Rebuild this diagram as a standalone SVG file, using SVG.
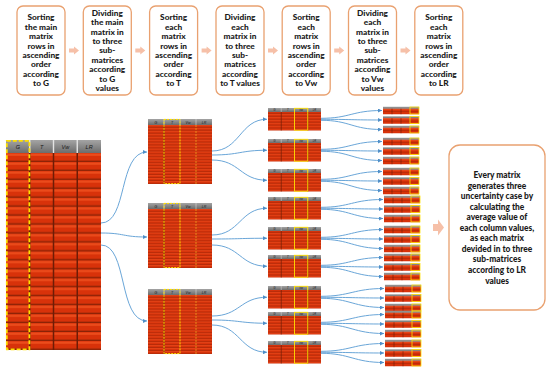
<svg xmlns="http://www.w3.org/2000/svg" width="550" height="372" viewBox="0 0 550 372">
<defs>
<style>
.st{font-family:Lato,"Liberation Sans",sans-serif;font-weight:900;font-size:8.3px;text-anchor:middle;fill:#1a1a1a}
.sm{font-family:Lato,"Liberation Sans",sans-serif;font-weight:900;font-size:8.4px;text-anchor:middle;fill:#1a1a1a}
.box{fill:#fff;stroke:#e9a170;stroke-width:1.3}
.fa{fill:#f6c0a8}
.c{fill:none;stroke:#6aa6d8;stroke-width:1;marker-end:url(#ah)}
.hd{font-family:"Liberation Sans",sans-serif;font-style:italic;text-anchor:middle;fill:#1a1a1a}
.sep{stroke:#6e1c06;fill:none}
.yl{fill:none;stroke:#ffe000}
</style>
<linearGradient id="hdr" x1="0" y1="0" x2="0" y2="1">
<stop offset="0" stop-color="#a4a4a4"/><stop offset="1" stop-color="#6c6c6c"/>
</linearGradient>
<pattern id="rowsBig" width="100" height="8.95" patternUnits="userSpaceOnUse">
<rect width="100" height="8.95" fill="#d8320a"/>
<rect y="0.6" width="100" height="2.2" fill="#ec4c1c"/>
<rect y="7.6" width="100" height="1.35" fill="#8a2206"/>
</pattern>
<pattern id="rowsMid" width="100" height="2.95" patternUnits="userSpaceOnUse">
<rect width="100" height="2.95" fill="#d8320a"/>
<rect y="0.3" width="100" height="0.7" fill="#ea4a1c"/>
<rect y="2.35" width="100" height="0.6" fill="#a02608"/>
</pattern>
<marker id="ah" markerUnits="userSpaceOnUse" markerWidth="4" markerHeight="4" refX="4" refY="2" orient="auto">
<path d="M0,0 L4,2 L0,4 z" fill="#4f8fc8"/>
</marker>
<g id="tplL1">
<rect width="64" height="6" fill="url(#hdr)"/>
<path d="M16,0V6M32,0V6M48,0V6" stroke="#d8d8d8" stroke-width="0.6"/>
<text class="hd" x="8" y="4.5" font-size="3.6">G</text>
<text class="hd" x="24" y="4.5" font-size="3.6">T</text>
<text class="hd" x="40" y="4.5" font-size="3.6">Vw</text>
<text class="hd" x="56" y="4.5" font-size="3.6">LR</text>
<rect y="6" width="64" height="59" fill="url(#rowsMid)"/>
<path class="sep" d="M16,6V65" stroke-width="0.8"/>
<path d="M48,6V65" stroke="#e8a020" stroke-width="0.8" stroke-dasharray="2,1" fill="none"/>
<rect class="yl" x="16" y="0.4" width="16" height="64.2" stroke-width="1" stroke-dasharray="2,1"/>
</g>
<g id="tplL2">
<rect width="53" height="4" fill="url(#hdr)"/>
<path d="M13.25,0V4M26.5,0V4M39.75,0V4" stroke="#d8d8d8" stroke-width="0.5"/>
<text class="hd" x="6.6" y="3.2" font-size="2.6">G</text>
<text class="hd" x="19.9" y="3.2" font-size="2.6">T</text>
<text class="hd" x="33.1" y="3.2" font-size="2.6">Vw</text>
<text class="hd" x="46.4" y="3.2" font-size="2.6">LR</text>
<rect y="4" width="53" height="18.5" fill="url(#rowsMid)"/>
<path class="sep" d="M13.25,4V22.5M39.75,4V22.5" stroke-width="0.7"/>
<rect class="yl" x="26.5" y="0.3" width="13.25" height="21.9" stroke-width="0.9"/>
</g>
<g id="tplL3">
<rect width="36" height="2" fill="url(#hdr)"/>
<rect y="2" width="36" height="5.5" fill="#d8320a"/>
<rect y="2.4" width="36" height="0.8" fill="#ea4a1c"/>
<rect y="4.6" width="36" height="0.5" fill="#a02608"/>
<path class="sep" d="M9,2V7.5M18,2V7.5" stroke-width="0.6"/>
<rect class="yl" x="27" y="0.3" width="9" height="6.9" stroke-width="0.8"/>
</g>
</defs>
<rect width="550" height="372" fill="#fff"/>

<g id="step1">
<rect class="box" x="17" y="6" width="48" height="89" rx="6"/>
<text class="st" x="41" y="20.4">Sorting</text>
<text class="st" x="41" y="29.8">the main</text>
<text class="st" x="41" y="39.2">matrix</text>
<text class="st" x="41" y="48.6">rows in</text>
<text class="st" x="41" y="58">ascending</text>
<text class="st" x="41" y="67.4">order</text>
<text class="st" x="41" y="76.8">according</text>
<text class="st" x="41" y="86.2">to G</text>
</g>
<g id="step2">
<rect class="box" x="83.3" y="6" width="48" height="89" rx="6"/>
<text class="st" x="107.3" y="15.7">Dividing</text>
<text class="st" x="107.3" y="25.1">the main</text>
<text class="st" x="107.3" y="34.5">matrix in</text>
<text class="st" x="107.3" y="43.9">to three</text>
<text class="st" x="107.3" y="53.3">sub-</text>
<text class="st" x="107.3" y="62.7">matrices</text>
<text class="st" x="107.3" y="72.1">according</text>
<text class="st" x="107.3" y="81.5">to G</text>
<text class="st" x="107.3" y="90.9">values</text>
</g>
<g id="step3">
<rect class="box" x="149.6" y="6" width="48" height="89" rx="6"/>
<text class="st" x="173.6" y="20.4">Sorting</text>
<text class="st" x="173.6" y="29.8">each</text>
<text class="st" x="173.6" y="39.2">matrix</text>
<text class="st" x="173.6" y="48.6">rows in</text>
<text class="st" x="173.6" y="58">ascending</text>
<text class="st" x="173.6" y="67.4">order</text>
<text class="st" x="173.6" y="76.8">according</text>
<text class="st" x="173.6" y="86.2">to T</text>
</g>
<g id="step4">
<rect class="box" x="216" y="6" width="48" height="89" rx="6"/>
<text class="st" x="240" y="20.4">Dividing</text>
<text class="st" x="240" y="29.8">each</text>
<text class="st" x="240" y="39.2">matrix in</text>
<text class="st" x="240" y="48.6">to three</text>
<text class="st" x="240" y="58">sub-</text>
<text class="st" x="240" y="67.4">matrices</text>
<text class="st" x="240" y="76.8">according</text>
<text class="st" x="240" y="86.2">to T values</text>
</g>
<g id="step5">
<rect class="box" x="282.2" y="6" width="48" height="89" rx="6"/>
<text class="st" x="306.2" y="20.4">Sorting</text>
<text class="st" x="306.2" y="29.8">each</text>
<text class="st" x="306.2" y="39.2">matrix</text>
<text class="st" x="306.2" y="48.6">rows in</text>
<text class="st" x="306.2" y="58">ascending</text>
<text class="st" x="306.2" y="67.4">order</text>
<text class="st" x="306.2" y="76.8">according</text>
<text class="st" x="306.2" y="86.2">to Vw</text>
</g>
<g id="step6">
<rect class="box" x="348.5" y="6" width="48" height="89" rx="6"/>
<text class="st" x="372.5" y="15.7">Dividing</text>
<text class="st" x="372.5" y="25.1">each</text>
<text class="st" x="372.5" y="34.5">matrix in</text>
<text class="st" x="372.5" y="43.9">to three</text>
<text class="st" x="372.5" y="53.3">sub-</text>
<text class="st" x="372.5" y="62.7">matrices</text>
<text class="st" x="372.5" y="72.1">according</text>
<text class="st" x="372.5" y="81.5">to Vw</text>
<text class="st" x="372.5" y="90.9">values</text>
</g>
<g id="step7">
<rect class="box" x="414.8" y="6" width="48" height="89" rx="6"/>
<text class="st" x="438.8" y="20.4">Sorting</text>
<text class="st" x="438.8" y="29.8">each</text>
<text class="st" x="438.8" y="39.2">matrix</text>
<text class="st" x="438.8" y="48.6">rows in</text>
<text class="st" x="438.8" y="58">ascending</text>
<text class="st" x="438.8" y="67.4">order</text>
<text class="st" x="438.8" y="76.8">according</text>
<text class="st" x="438.8" y="86.2">to LR</text>
</g>

<g id="main-matrix">
<g transform="translate(6,140)">
<rect width="95" height="13" fill="url(#hdr)"/>
<path d="M23.75,0V13M47.5,0V13M71.25,0V13" stroke="#e4e4e4" stroke-width="1.4"/>
<text class="hd" x="11.9" y="9" font-size="5.5">G</text>
<text class="hd" x="35.6" y="9" font-size="5.5">T</text>
<text class="hd" x="59.4" y="9" font-size="5.5">Vw</text>
<text class="hd" x="83.1" y="9" font-size="5.5">LR</text>
</g>
<g transform="translate(6,153)">
<rect width="95" height="197" fill="url(#rowsBig)"/>
<path class="sep" d="M23.75,0V197M47.5,0V197M71.25,0V197" stroke-width="1.5"/>
</g>
<rect class="yl" x="6.8" y="140.8" width="22.6" height="208.6" stroke-width="1.8" stroke-dasharray="4,2"/>
</g>

<g id="m1a"><use href="#tplL1" x="148" y="119"/></g>
<g id="m1b"><use href="#tplL1" x="148" y="203"/></g>
<g id="m1c"><use href="#tplL1" x="148" y="289"/></g>

<g id="m2a"><use href="#tplL2" x="268" y="108"/></g>
<g id="m2b"><use href="#tplL2" x="268" y="139"/></g>
<g id="m2c"><use href="#tplL2" x="268" y="169"/></g>
<g id="m2d"><use href="#tplL2" x="268" y="197"/></g>
<g id="m2e"><use href="#tplL2" x="268" y="227"/></g>
<g id="m2f"><use href="#tplL2" x="268" y="255"/></g>
<g id="m2g"><use href="#tplL2" x="268" y="286"/></g>
<g id="m2h"><use href="#tplL2" x="268" y="312"/></g>
<g id="m2i"><use href="#tplL2" x="268" y="341"/></g>

<g id="m3-01"><use href="#tplL3" x="383" y="106.75"/></g>
<g id="m3-02"><use href="#tplL3" x="383" y="116.25"/></g>
<g id="m3-03"><use href="#tplL3" x="383" y="125.75"/></g>
<g id="m3-04"><use href="#tplL3" x="383" y="137.75"/></g>
<g id="m3-05"><use href="#tplL3" x="383" y="147.25"/></g>
<g id="m3-06"><use href="#tplL3" x="383" y="156.75"/></g>
<g id="m3-07"><use href="#tplL3" x="383" y="167.75"/></g>
<g id="m3-08"><use href="#tplL3" x="383" y="177.25"/></g>
<g id="m3-09"><use href="#tplL3" x="383" y="186.75"/></g>
<g id="m3-10"><use href="#tplL3" x="384" y="195.75"/></g>
<g id="m3-11"><use href="#tplL3" x="384" y="205.25"/></g>
<g id="m3-12"><use href="#tplL3" x="384" y="214.75"/></g>
<g id="m3-13"><use href="#tplL3" x="384" y="225.75"/></g>
<g id="m3-14"><use href="#tplL3" x="384" y="235.25"/></g>
<g id="m3-15"><use href="#tplL3" x="384" y="244.75"/></g>
<g id="m3-16"><use href="#tplL3" x="384" y="253.75"/></g>
<g id="m3-17"><use href="#tplL3" x="384" y="263.25"/></g>
<g id="m3-18"><use href="#tplL3" x="384" y="272.75"/></g>
<g id="m3-19"><use href="#tplL3" x="385" y="284.75"/></g>
<g id="m3-20"><use href="#tplL3" x="385" y="294.25"/></g>
<g id="m3-21"><use href="#tplL3" x="385" y="303.75"/></g>
<g id="m3-22"><use href="#tplL3" x="385" y="310.75"/></g>
<g id="m3-23"><use href="#tplL3" x="385" y="320.25"/></g>
<g id="m3-24"><use href="#tplL3" x="385" y="329.75"/></g>
<g id="m3-25"><use href="#tplL3" x="385" y="339.75"/></g>
<g id="m3-26"><use href="#tplL3" x="385" y="349.25"/></g>
<g id="m3-27"><use href="#tplL3" x="385" y="358.75"/></g>

<g id="summary">
<rect class="box" x="449" y="145" width="96" height="165" rx="11"/>
<text class="sm" x="497" y="178">Every matrix</text>
<text class="sm" x="497" y="188.5">generates three</text>
<text class="sm" x="497" y="199.1">uncertainty case by</text>
<text class="sm" x="497" y="209.6">calculating the</text>
<text class="sm" x="497" y="220.2">average value of</text>
<text class="sm" x="497" y="230.7">each column values,</text>
<text class="sm" x="497" y="241.3">as each matrix</text>
<text class="sm" x="497" y="251.8">devided in to three</text>
<text class="sm" x="497" y="262.4">sub-matrices</text>
<text class="sm" x="497" y="272.9">according to LR</text>
<text class="sm" x="497" y="283.5">values</text>
</g>

<g id="connectors">
<g id="flow-arrows">
<path class="fa" d="M69,48.5H74V46.5L79,50.5L74,54.5V52.5H69Z"/>
<path class="fa" d="M135.3,48.5H140.3V46.5L145.3,50.5L140.3,54.5V52.5H135.3Z"/>
<path class="fa" d="M201.6,48.5H206.6V46.5L211.6,50.5L206.6,54.5V52.5H201.6Z"/>
<path class="fa" d="M268,48.5H273V46.5L278,50.5L273,54.5V52.5H268Z"/>
<path class="fa" d="M334.2,48.5H339.2V46.5L344.2,50.5L339.2,54.5V52.5H334.2Z"/>
<path class="fa" d="M400.5,48.5H405.5V46.5L410.5,50.5L405.5,54.5V52.5H400.5Z"/>
<path class="fa" d="M433,224H438V219.5L444,227.5L438,235.5V231H433Z"/>
</g>
<path class="c" d="M101,223 C128,223 118,152 147,152"/>
<path class="c" d="M101,233 C125,233 122,237 147,237"/>
<path class="c" d="M101,245 C128,245 118,321 147,321"/>

<path class="c" d="M212,151 C240,151 240,119.25 267,119.25"/>
<path class="c" d="M212,155 C240,155 240,150.25 267,150.25"/>
<path class="c" d="M212,160 C240,160 240,180.25 267,180.25"/>
<path class="c" d="M212,235 C240,235 240,208.25 267,208.25"/>
<path class="c" d="M212,239 C240,239 240,238.25 267,238.25"/>
<path class="c" d="M212,245 C240,245 240,266.25 267,266.25"/>
<path class="c" d="M212,316 C240,316 240,297.25 267,297.25"/>
<path class="c" d="M212,320 C240,320 240,323.25 267,323.25"/>
<path class="c" d="M212,325 C240,325 240,352.25 267,352.25"/>

<path class="c" d="M321,118.3 C350,118.3 352,110.5 382,110.5"/>
<path class="c" d="M321,119.3 C350,119.3 352,120 382,120"/>
<path class="c" d="M321,120.3 C350,120.3 352,129.5 382,129.5"/>
<path class="c" d="M321,149.3 C350,149.3 352,141.5 382,141.5"/>
<path class="c" d="M321,150.3 C350,150.3 352,151 382,151"/>
<path class="c" d="M321,151.3 C350,151.3 352,160.5 382,160.5"/>
<path class="c" d="M321,179.3 C350,179.3 352,171.5 382,171.5"/>
<path class="c" d="M321,180.3 C350,180.3 352,181 382,181"/>
<path class="c" d="M321,181.3 C350,181.3 352,190.5 382,190.5"/>
<path class="c" d="M321,207.3 C350,207.3 353,199.5 383,199.5"/>
<path class="c" d="M321,208.3 C350,208.3 353,209 383,209"/>
<path class="c" d="M321,209.3 C350,209.3 353,218.5 383,218.5"/>
<path class="c" d="M321,237.3 C350,237.3 353,229.5 383,229.5"/>
<path class="c" d="M321,238.3 C350,238.3 353,239 383,239"/>
<path class="c" d="M321,239.3 C350,239.3 353,248.5 383,248.5"/>
<path class="c" d="M321,265.3 C350,265.3 353,257.5 383,257.5"/>
<path class="c" d="M321,266.3 C350,266.3 353,267 383,267"/>
<path class="c" d="M321,267.3 C350,267.3 353,276.5 383,276.5"/>
<path class="c" d="M321,296.3 C350,296.3 354,288.5 384,288.5"/>
<path class="c" d="M321,297.3 C350,297.3 354,298 384,298"/>
<path class="c" d="M321,298.3 C350,298.3 354,307.5 384,307.5"/>
<path class="c" d="M321,322.3 C350,322.3 354,314.5 384,314.5"/>
<path class="c" d="M321,323.3 C350,323.3 354,324 384,324"/>
<path class="c" d="M321,324.3 C350,324.3 354,333.5 384,333.5"/>
<path class="c" d="M321,351.3 C350,351.3 354,343.5 384,343.5"/>
<path class="c" d="M321,352.3 C350,352.3 354,353 384,353"/>
<path class="c" d="M321,353.3 C350,353.3 354,362.5 384,362.5"/>
</g>
</svg>
